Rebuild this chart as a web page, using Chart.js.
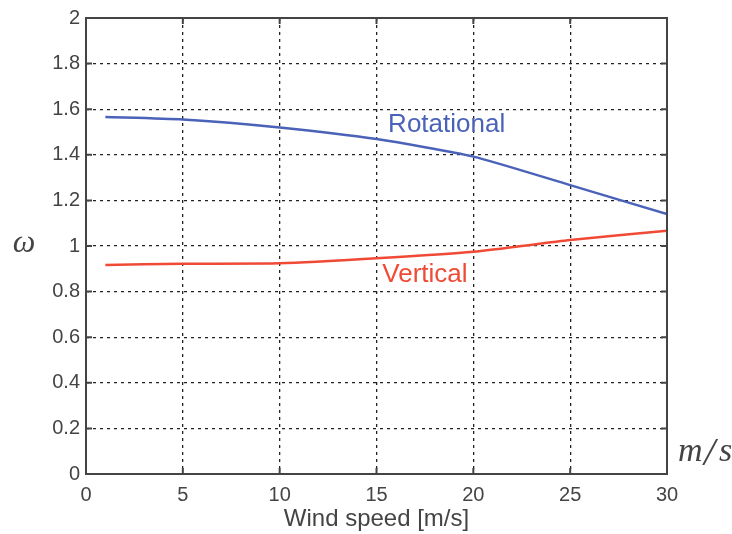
<!DOCTYPE html>
<html>
<head>
<meta charset="utf-8">
<script src="https://cdn.jsdelivr.net/npm/chart.js@4/dist/chart.umd.min.js"></script>
<style>
  html, body { margin: 0; padding: 0; background: #fff; }
  #wrap { width: 732px; height: 534px; }
</style>
</head>
<body>
<div id="wrap"><canvas id="omega_chart" width="732" height="534"></canvas></div>
<script>
// wind speed [m/s]
const windSpeed = [1, 5, 10, 15, 20, 25, 30];
// omega values
const rotational = [1.566, 1.555, 1.52, 1.469, 1.392, 1.267, 1.14];
const vertical = [0.917, 0.922, 0.924, 0.946, 0.975, 1.026, 1.067];
const xTicks = [0, 5, 10, 15, 20, 25, 30];
const yTicks = [0, 0.2, 0.4, 0.6, 0.8, 1, 1.2, 1.4, 1.6, 1.8, 2];

// where the curve names sit (data units)
const curveLabels = [
    { text: "Rotational", x: 15.6, y: 1.53, color: "#4a62b8" },
    { text: "Vertical", x: 15.3, y: 0.872, color: "#f04a36" }
];

const tickFont = "'Liberation Sans', Arial, sans-serif";

// frame, inward ticks and the loose text around the axes
const decorations = {
    id: 'decorations',
    afterDraw(chart) {
        const ctx = chart.ctx;
        const a = chart.chartArea;
        const xs = chart.scales.x;
        const ys = chart.scales.y;
        ctx.save();
        ctx.strokeStyle = "#444";
        ctx.lineWidth = 2;
        ctx.setLineDash([]);
        ctx.strokeRect(a.left, a.top, a.right - a.left, a.bottom - a.top);
        ctx.beginPath();
        xTicks.forEach(v => {
            let px = xs.getPixelForValue(v);
            ctx.moveTo(px, a.bottom); ctx.lineTo(px, a.bottom - 6);
            ctx.moveTo(px, a.top); ctx.lineTo(px, a.top + 6);
        });
        yTicks.forEach(v => {
            let py = ys.getPixelForValue(v);
            ctx.moveTo(a.left, py); ctx.lineTo(a.left + 6, py);
            ctx.moveTo(a.right, py); ctx.lineTo(a.right - 6, py);
        });
        ctx.stroke();

        ctx.font = "26px " + tickFont;
        ctx.textBaseline = "middle";
        ctx.textAlign = "left";
        curveLabels.forEach(l => {
            ctx.fillStyle = l.color;
            ctx.fillText(l.text, xs.getPixelForValue(l.x), ys.getPixelForValue(l.y));
        });

        ctx.fillStyle = "#444";
        ctx.font = "italic 32px 'Liberation Serif', 'DejaVu Serif', serif";
        ctx.textAlign = "center";
        ctx.fillText("ω", 24, ys.getPixelForValue(1.0) - 2);
        ctx.textAlign = "left";
        ctx.font = "italic 34px 'Liberation Serif', 'DejaVu Serif', serif";
        ctx.fillText("m", 678, 452);
        ctx.fillText("s", 719, 452);
        ctx.font = "italic 40px 'Liberation Serif', 'DejaVu Serif', serif";
        ctx.fillText("/", 704, 454);
        ctx.restore();
    }
};

let canvas = document.querySelector("#omega_chart");
let context = canvas.getContext('2d');

new Chart(context, {
    type: 'line',
    data: {
        datasets: [{
            label: "Rotational",
            data: windSpeed.map((w, i) => ({ x: w, y: rotational[i] })),
            borderColor: "#4a62b8",
            borderWidth: 2.5,
            pointRadius: 0,
            tension: 0.2
        }, {
            label: "Vertical",
            data: windSpeed.map((w, i) => ({ x: w, y: vertical[i] })),
            borderColor: "#f04a36",
            borderWidth: 2.5,
            pointRadius: 0,
            tension: 0.2
        }]
    },
    options: {
        responsive: false,
        animation: false,
        layout: { padding: { top: 18, right: 65, bottom: 0, left: 0 } },
        plugins: {
            legend: { display: false },
            tooltip: { enabled: false }
        },
        scales: {
            x: {
                type: 'linear',
                min: 0,
                max: 30,
                afterBuildTicks: s => { s.ticks = xTicks.map(v => ({ value: v })); },
                afterFit: s => { s.height = 60; },
                grid: { color: "#222", lineWidth: 1.3, drawTicks: false },
                border: { display: false, dash: [3, 4] },
                ticks: {
                    padding: 9,
                    color: "#444",
                    callback: v => String(v),
                    font: { family: tickFont, size: 20 }
                },
                title: {
                    display: true,
                    text: "Wind speed [m/s]",
                    color: "#444",
                    padding: { top: -2, bottom: 0 },
                    font: { family: tickFont, size: 24 }
                }
            },
            y: {
                min: 0,
                max: 2,
                afterBuildTicks: s => { s.ticks = yTicks.map(v => ({ value: v })); },
                afterFit: s => { s.width = 86; },
                grid: { color: "#222", lineWidth: 1.3, drawTicks: false },
                border: { display: false, dash: [3, 4] },
                ticks: {
                    padding: 6,
                    color: "#444",
                    callback: v => String(v),
                    font: { family: tickFont, size: 20 }
                }
            }
        }
    },
    plugins: [decorations]
});
</script>
</body>
</html>
